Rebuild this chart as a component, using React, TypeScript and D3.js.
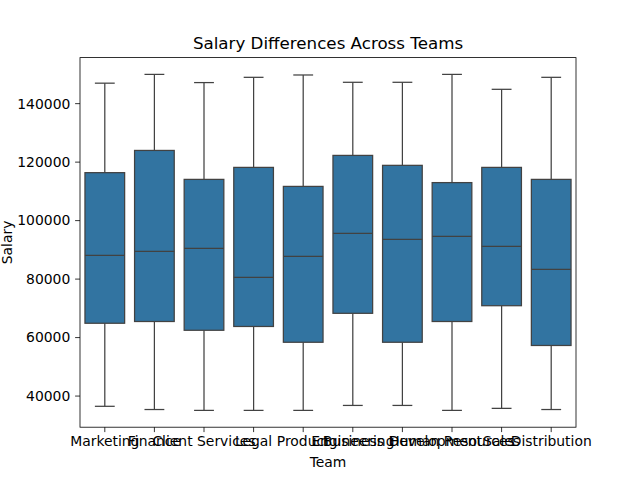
import React from "react";
import * as d3 from "d3";

// five-number summaries (whisker low, Q1, median, Q3, whisker high)
const teams = [
  "Marketing",
  "Finance",
  "Client Services",
  "Legal",
  "Product",
  "Engineering",
  "Business Development",
  "Human Resources",
  "Sales",
  "Distribution",
];
const whiskerLow = [36500, 35400, 35100, 35100, 35100, 36800, 36800, 35100, 35800, 35400];
const q1 = [64900, 65500, 62500, 63800, 58400, 68300, 58400, 65500, 70900, 57300];
const median = [88100, 89500, 90500, 80600, 87800, 95600, 93600, 94600, 91200, 83300];
const q3 = [116400, 124000, 114100, 118200, 111700, 122300, 118900, 113000, 118200, 114100];
const whiskerHigh = [147000, 150000, 147200, 149000, 149800, 147300, 147300, 150000, 144900, 149000];
const yTicks = [40000, 60000, 80000, 100000, 120000, 140000];

const W = 640;
const H = 480;
const margin = { left: 80, right: 64, top: 57.6, bottom: 52.8 };
const boxFill = "#3274a1";
const lineColor = "#424242";
const font = "DejaVu Sans, sans-serif";

const App: React.FC = () => {
  const x = d3
    .scaleBand<string>()
    .domain(teams)
    .range([margin.left, W - margin.right])
    .padding(0);

  const lo = d3.min(whiskerLow)!;
  const hi = d3.max(whiskerHigh)!;
  const pad = (hi - lo) * 0.05;
  const y = d3
    .scaleLinear()
    .domain([lo - pad, hi + pad])
    .range([H - margin.bottom, margin.top]);

  const bw = x.bandwidth() * 0.8;
  const capW = bw / 2;
  const lw = 1.25;

  return (
    <svg
      width={W}
      height={H}
      style={{ position: "absolute", left: 0, top: 0, background: "#fff" }}
      fontFamily={font}
    >
      <rect x={0} y={0} width={W} height={H} fill="#fff" />
      {teams.map((t, i) => {
        const cx = x(t)! + x.bandwidth() / 2;
        return (
          <g key={t}>
            <line x1={cx} x2={cx} y1={y(q1[i])} y2={y(whiskerLow[i])} stroke={lineColor} strokeWidth={lw} />
            <line x1={cx} x2={cx} y1={y(q3[i])} y2={y(whiskerHigh[i])} stroke={lineColor} strokeWidth={lw} />
            <line x1={cx - capW / 2} x2={cx + capW / 2} y1={y(whiskerLow[i])} y2={y(whiskerLow[i])} stroke={lineColor} strokeWidth={lw} />
            <line x1={cx - capW / 2} x2={cx + capW / 2} y1={y(whiskerHigh[i])} y2={y(whiskerHigh[i])} stroke={lineColor} strokeWidth={lw} />
            <rect
              x={cx - bw / 2}
              y={y(q3[i])}
              width={bw}
              height={y(q1[i]) - y(q3[i])}
              fill={boxFill}
              stroke={lineColor}
              strokeWidth={lw}
            />
            <line x1={cx - bw / 2} x2={cx + bw / 2} y1={y(median[i])} y2={y(median[i])} stroke={lineColor} strokeWidth={lw} />
          </g>
        );
      })}

      {/* axes frame */}
      <rect
        x={margin.left}
        y={margin.top}
        width={W - margin.left - margin.right}
        height={H - margin.top - margin.bottom}
        fill="none"
        stroke="#000"
        strokeWidth={0.8}
      />

      {/* y ticks */}
      {yTicks.map((v) => (
        <g key={v} transform={`translate(${margin.left},${y(v)})`}>
          <line x1={-4.9} x2={0} stroke="#000" strokeWidth={0.8} />
          <text x={-9.7} dy="0.35em" textAnchor="end" fontSize={13.9} fill="#000">
            {v}
          </text>
        </g>
      ))}

      {/* x ticks */}
      {teams.map((t) => {
        const cx = x(t)! + x.bandwidth() / 2;
        return (
          <g key={t} transform={`translate(${cx},${H - margin.bottom})`}>
            <line y1={0} y2={4.9} stroke="#000" strokeWidth={0.8} />
            <text y={8} dy="0.8em" textAnchor="middle" fontSize={13.9} fill="#000">
              {t}
            </text>
          </g>
        );
      })}

      <text x={(margin.left + W - margin.right) / 2} y={467} textAnchor="middle" fontSize={13.9} fill="#000">
        Team
      </text>
      <text
        transform={`translate(${12},${(margin.top + H - margin.bottom) / 2}) rotate(-90)`}
        textAnchor="middle"
        fontSize={13.9}
        fill="#000"
      >
        Salary
      </text>
      <text x={(margin.left + W - margin.right) / 2} y={49} textAnchor="middle" fontSize={16.7} fill="#000">
        Salary Differences Across Teams
      </text>
    </svg>
  );
};

export default App;
